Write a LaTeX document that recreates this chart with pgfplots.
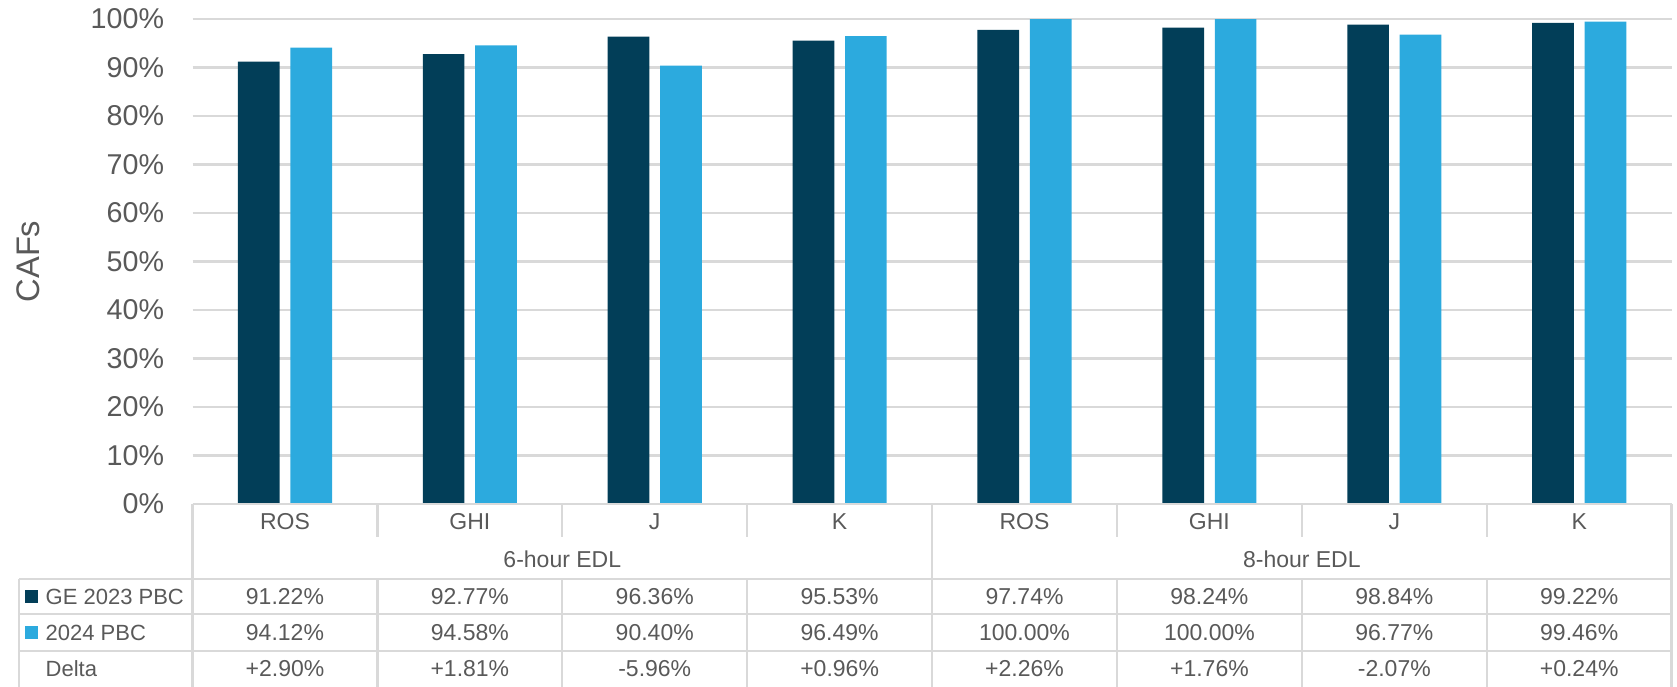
\documentclass[border=0pt]{standalone}
\usepackage{pgfplots}
\pgfplotsset{compat=1.18}
\usepackage{fontspec}
\setmainfont{Liberation Sans}
\definecolor{darkb}{RGB}{2,62,88}
\definecolor{lightb}{RGB}{44,170,222}
\definecolor{txt}{RGB}{89,89,89}
\definecolor{grd}{RGB}{217,217,217}
\newcommand{\tf}{\fontsize{6.9}{8}\selectfont}
\newcommand{\lf}{\fontsize{6.6}{8}\selectfont}
\begin{document}
\begin{tikzpicture}
\begin{axis}[
  scale only axis, width=443.7pt, height=145.5pt,
  xmin=0.5, xmax=8.5, ymin=0, ymax=100,
  clip=false,
  xtick=\empty,
  ytick={0,10,20,30,40,50,60,70,80,90,100},
  yticklabels={0\%,10\%,20\%,30\%,40\%,50\%,60\%,70\%,80\%,90\%,100\%},
  yticklabel style={text=txt, font=\fontsize{8.6}{10}\selectfont, xshift=-5pt},
  major tick length=0pt,
  axis line style={draw=none},
  ymajorgrids, grid style={grd, line width=0.7pt},
]
\addplot[ybar, bar width=0.2255, bar shift=-0.1418, fill=darkb, draw=none]
  coordinates {(1,91.22) (2,92.77) (3,96.36) (4,95.53) (5,97.74) (6,98.24) (7,98.84) (8,99.22)};
\addplot[ybar, bar width=0.2255, bar shift=0.1418, fill=lightb, draw=none]
  coordinates {(1,94.12) (2,94.58) (3,90.40) (4,96.49) (5,100) (6,100) (7,96.77) (8,99.46)};

% y label
\node[rotate=90, text=txt, font=\fontsize{9.8}{11}\selectfont] at (axis cs:-0.387,50) {CAFs};

% table lines
\draw[grd, line width=0.7pt] (axis cs:0.5,0) -- (axis cs:8.5,0);
\draw[grd, line width=0.7pt] (axis cs:-0.4385,-15.46) -- (axis cs:8.5,-15.46);
\draw[grd, line width=0.7pt] (axis cs:-0.4385,-22.68) -- (axis cs:8.5,-22.68);
\draw[grd, line width=0.7pt] (axis cs:-0.4385,-30.31) -- (axis cs:8.5,-30.31);
\draw[grd, line width=0.7pt] (axis cs:-0.4385,-15.46) -- (axis cs:-0.4385,-38);
\draw[grd, line width=0.7pt] (axis cs:0.5,0) -- (axis cs:0.5,-38);
\draw[grd, line width=0.7pt] (axis cs:4.5,0) -- (axis cs:4.5,-38);
\draw[grd, line width=0.7pt] (axis cs:8.5,0) -- (axis cs:8.5,-38);
\draw[grd, line width=0.7pt] (axis cs:1.5,0) -- (axis cs:1.5,-6.8) (axis cs:1.5,-15.46) -- (axis cs:1.5,-38);
\draw[grd, line width=0.7pt] (axis cs:2.5,0) -- (axis cs:2.5,-6.8) (axis cs:2.5,-15.46) -- (axis cs:2.5,-38);
\draw[grd, line width=0.7pt] (axis cs:3.5,0) -- (axis cs:3.5,-6.8) (axis cs:3.5,-15.46) -- (axis cs:3.5,-38);
\draw[grd, line width=0.7pt] (axis cs:5.5,0) -- (axis cs:5.5,-6.8) (axis cs:5.5,-15.46) -- (axis cs:5.5,-38);
\draw[grd, line width=0.7pt] (axis cs:6.5,0) -- (axis cs:6.5,-6.8) (axis cs:6.5,-15.46) -- (axis cs:6.5,-38);
\draw[grd, line width=0.7pt] (axis cs:7.5,0) -- (axis cs:7.5,-6.8) (axis cs:7.5,-15.46) -- (axis cs:7.5,-38);

% category row
\node[text=txt, font=\tf] at (axis cs:1,-3.7) {ROS};
\node[text=txt, font=\tf] at (axis cs:2,-3.7) {GHI};
\node[text=txt, font=\tf] at (axis cs:3,-3.7) {J};
\node[text=txt, font=\tf] at (axis cs:4,-3.7) {K};
\node[text=txt, font=\tf] at (axis cs:5,-3.7) {ROS};
\node[text=txt, font=\tf] at (axis cs:6,-3.7) {GHI};
\node[text=txt, font=\tf] at (axis cs:7,-3.7) {J};
\node[text=txt, font=\tf] at (axis cs:8,-3.7) {K};
% group row
\node[text=txt, font=\tf] at (axis cs:2.5,-11.3) {6-hour EDL};
\node[text=txt, font=\tf] at (axis cs:6.5,-11.3) {8-hour EDL};
% legend column
\fill[darkb] (axis cs:-0.4054,-17.73) rectangle (axis cs:-0.3351,-20.41);
\fill[lightb] (axis cs:-0.4054,-25.15) rectangle (axis cs:-0.3351,-27.84);
\node[text=txt, font=\lf, anchor=west, inner sep=0pt] at (axis cs:-0.2978,-19.07) {GE 2023 PBC};
\node[text=txt, font=\lf, anchor=west, inner sep=0pt] at (axis cs:-0.2978,-26.5) {2024 PBC};
\node[text=txt, font=\lf, anchor=west, inner sep=0pt] at (axis cs:-0.2978,-33.9) {Delta};
% GE 2023 row
\node[text=txt, font=\tf] at (axis cs:1,-19.07) {91.22\%};
\node[text=txt, font=\tf] at (axis cs:2,-19.07) {92.77\%};
\node[text=txt, font=\tf] at (axis cs:3,-19.07) {96.36\%};
\node[text=txt, font=\tf] at (axis cs:4,-19.07) {95.53\%};
\node[text=txt, font=\tf] at (axis cs:5,-19.07) {97.74\%};
\node[text=txt, font=\tf] at (axis cs:6,-19.07) {98.24\%};
\node[text=txt, font=\tf] at (axis cs:7,-19.07) {98.84\%};
\node[text=txt, font=\tf] at (axis cs:8,-19.07) {99.22\%};
% 2024 row
\node[text=txt, font=\tf] at (axis cs:1,-26.5) {94.12\%};
\node[text=txt, font=\tf] at (axis cs:2,-26.5) {94.58\%};
\node[text=txt, font=\tf] at (axis cs:3,-26.5) {90.40\%};
\node[text=txt, font=\tf] at (axis cs:4,-26.5) {96.49\%};
\node[text=txt, font=\tf] at (axis cs:5,-26.5) {100.00\%};
\node[text=txt, font=\tf] at (axis cs:6,-26.5) {100.00\%};
\node[text=txt, font=\tf] at (axis cs:7,-26.5) {96.77\%};
\node[text=txt, font=\tf] at (axis cs:8,-26.5) {99.46\%};
% Delta row
\node[text=txt, font=\tf] at (axis cs:1,-33.9) {+2.90\%};
\node[text=txt, font=\tf] at (axis cs:2,-33.9) {+1.81\%};
\node[text=txt, font=\tf] at (axis cs:3,-33.9) {-5.96\%};
\node[text=txt, font=\tf] at (axis cs:4,-33.9) {+0.96\%};
\node[text=txt, font=\tf] at (axis cs:5,-33.9) {+2.26\%};
\node[text=txt, font=\tf] at (axis cs:6,-33.9) {+1.76\%};
\node[text=txt, font=\tf] at (axis cs:7,-33.9) {-2.07\%};
\node[text=txt, font=\tf] at (axis cs:8,-33.9) {+0.24\%};

\coordinate (bbll) at (axis cs:-0.5413,-37.53);
\coordinate (bbur) at (axis cs:8.529,103.92);
\end{axis}
\pgfresetboundingbox
\path (bbll) rectangle (bbur);
\end{tikzpicture}
\end{document}
